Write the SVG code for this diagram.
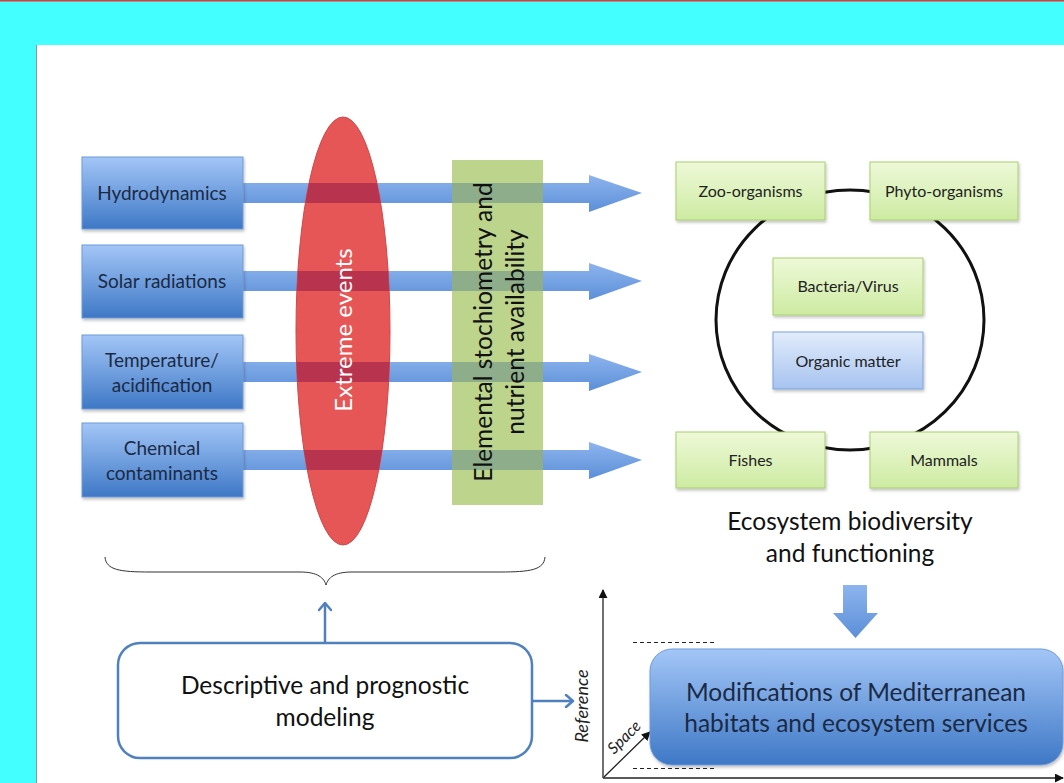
<svg xmlns="http://www.w3.org/2000/svg" width="1064" height="783" viewBox="0 0 1064 783">
<defs>
<linearGradient id="gBlue" x1="0" y1="0" x2="0" y2="1">
<stop offset="0" stop-color="#A3C6F7"/><stop offset="1" stop-color="#3E78C6"/>
</linearGradient>
<linearGradient id="gGreen" x1="0" y1="0" x2="0" y2="1">
<stop offset="0" stop-color="#EEF9D8"/><stop offset="1" stop-color="#CDEBA2"/>
</linearGradient>
<linearGradient id="gLBlue" x1="0" y1="0" x2="0" y2="1">
<stop offset="0" stop-color="#E2ECFB"/><stop offset="1" stop-color="#A6C3F0"/>
</linearGradient>
<linearGradient id="gArrow" x1="0" y1="0" x2="0" y2="1">
<stop offset="0" stop-color="#8DB4EE"/><stop offset="1" stop-color="#5C8FD8"/>
</linearGradient>
<clipPath id="cEll"><ellipse cx="343" cy="331" rx="47" ry="214"/></clipPath>
<clipPath id="cGrn"><rect x="452" y="160" width="91" height="345"/></clipPath>
<marker id="mOpen" viewBox="0 0 14 14" refX="10" refY="7" markerWidth="14" markerHeight="14" orient="auto" markerUnits="userSpaceOnUse">
<path d="M3,1 L10,7 L3,13" fill="none" stroke="#4F81BD" stroke-width="2.5" stroke-linecap="round" stroke-linejoin="round"/>
</marker>
<marker id="mBlk" viewBox="0 0 10 10" refX="9" refY="5" markerWidth="9" markerHeight="9" orient="auto" markerUnits="userSpaceOnUse">
<path d="M0,0 L10,5 L0,10 Z" fill="#111"/>
</marker>
<filter id="sh" x="-10%" y="-10%" width="130%" height="130%">
<feDropShadow dx="1" dy="2" stdDeviation="1.5" flood-color="#000" flood-opacity="0.25"/>
</filter>
</defs>
<style>
.f{font-family:Lato,"Open Sans","Liberation Sans",sans-serif}
.lbl{font-family:Lato,"Open Sans","Liberation Sans",sans-serif;fill:#1B2A44;text-anchor:middle}
.sm{font-family:Lato,"Open Sans","Liberation Sans",sans-serif;fill:#222;font-size:16px;text-anchor:middle}
.big{font-family:Lato,"Open Sans","Liberation Sans",sans-serif;fill:#111;text-anchor:middle;font-size:24.5px}
.bbox{fill:url(#gBlue);stroke:#6F9BD8;stroke-width:1}
.gbox{fill:url(#gGreen);stroke:#A9CF6E;stroke-width:1}
.ax{stroke:#222;stroke-width:1.3;fill:none}
.dash{stroke:#222;stroke-width:1;stroke-dasharray:4 3}
</style>
<rect x="0" y="0" width="1064" height="783" fill="#44FFFF"/>
<rect x="0" y="0" width="1064" height="1.5" fill="#E03A3A"/>
<rect x="36" y="45" width="1028" height="738" fill="#FFFFFF"/>
<line x1="36.5" y1="45" x2="36.5" y2="783" stroke="#8E88C8" stroke-width="1"/>

<g id="connectors">
<g fill="url(#gArrow)">
<path d="M243,183 H589 V175 L642,193 L589,212 V203 H243 Z"/>
<path d="M243,271 H589 V263 L642,281 L589,300 V291 H243 Z"/>
<path d="M243,362 H589 V354 L642,372 L589,391 V382 H243 Z"/>
<path d="M243,450 H589 V442 L642,460 L589,479 V470 H243 Z"/>
</g>
<line x1="325" y1="643" x2="325" y2="603" stroke="#4F81BD" stroke-width="2.5" marker-end="url(#mOpen)"/>
<line x1="532" y1="701" x2="573" y2="701" stroke="#4F81BD" stroke-width="2.5" marker-end="url(#mOpen)"/>
<path d="M843,585 H867 V613 H878 L855.5,638 L833,613 H843 Z" fill="url(#gArrow)"/>
<path d="M105,557 C106,570 120,572 150,572 L300,572 C318,572 324,578 326,585 C328,578 334,572 352,572 L500,572 C530,572 544,570 545,557" fill="none" stroke="#333" stroke-width="1"/>
</g>

<g id="extreme-events">
<ellipse cx="343" cy="331" rx="47" ry="214" fill="#E65656" stroke="#D04848" stroke-width="1"/>
<g clip-path="url(#cEll)" fill="#B8344E">
<rect x="290" y="183" width="110" height="20"/>
<rect x="290" y="271" width="110" height="20"/>
<rect x="290" y="362" width="110" height="20"/>
<rect x="290" y="450" width="110" height="20"/>
</g>
<text class="f" transform="translate(352,330) rotate(-90)" font-size="24" fill="#FFFFFF" text-anchor="middle">Extreme events</text>
</g>

<g id="stoichiometry">
<rect x="452" y="160" width="91" height="345" fill="#BCD48C"/>
<g clip-path="url(#cGrn)" fill="#8EAD8A">
<rect x="450" y="183" width="95" height="20"/>
<rect x="450" y="271" width="95" height="20"/>
<rect x="450" y="362" width="95" height="20"/>
<rect x="450" y="450" width="95" height="20"/>
</g>
<text class="f" transform="translate(492,332) rotate(-90)" font-size="24.5" fill="#111" text-anchor="middle">Elemental stochiometry and</text>
<text class="f" transform="translate(524,332) rotate(-90)" font-size="24.5" fill="#111" text-anchor="middle">nutrient availability</text>
</g>

<g id="hydrodynamics"><rect class="bbox" x="82" y="157" width="161" height="72" filter="url(#sh)"/><text class="lbl" x="162" y="200" font-size="19">Hydrodynamics</text></g>
<g id="solar"><rect class="bbox" x="82" y="245" width="161" height="73" filter="url(#sh)"/><text class="lbl" x="162" y="288" font-size="19">Solar radiations</text></g>
<g id="temperature"><rect class="bbox" x="82" y="335" width="161" height="74" filter="url(#sh)"/><text class="lbl" x="162" y="367" font-size="19">Temperature/</text><text class="lbl" x="162" y="392" font-size="19">acidification</text></g>
<g id="chemical"><rect class="bbox" x="82" y="423" width="161" height="74" filter="url(#sh)"/><text class="lbl" x="162" y="455" font-size="19">Chemical</text><text class="lbl" x="162" y="480" font-size="19">contaminants</text></g>

<g id="cycle"><ellipse cx="850" cy="320" rx="134" ry="130" fill="none" stroke="#111" stroke-width="3"/></g>
<g id="zoo"><rect class="gbox" x="676" y="162" width="149" height="58" filter="url(#sh)"/><text class="sm" x="750.5" y="197">Zoo-organisms</text></g>
<g id="phyto"><rect class="gbox" x="870" y="162" width="148" height="58" filter="url(#sh)"/><text class="sm" x="944" y="197">Phyto-organisms</text></g>
<g id="bacteria"><rect class="gbox" x="773" y="258" width="150" height="57" filter="url(#sh)"/><text class="sm" x="848" y="292">Bacteria/Virus</text></g>
<g id="organic"><rect x="773" y="332" width="150" height="57" fill="url(#gLBlue)" stroke="#7EA3DC" stroke-width="1" filter="url(#sh)"/><text class="sm" x="848" y="367">Organic matter</text></g>
<g id="fishes"><rect class="gbox" x="676" y="432" width="149" height="56" filter="url(#sh)"/><text class="sm" x="750.5" y="466">Fishes</text></g>
<g id="mammals"><rect class="gbox" x="870" y="432" width="148" height="56" filter="url(#sh)"/><text class="sm" x="944" y="466">Mammals</text></g>

<g id="ecosystem-label">
<text class="big" x="850" y="530">Ecosystem biodiversity</text>
<text class="big" x="850" y="562">and functioning</text>
</g>

<g id="modeling">
<rect x="118" y="643" width="414" height="115" rx="22" ry="22" fill="#FFFFFF" stroke="#4F81BD" stroke-width="2.5"/>
<text class="big" x="325" y="694">Descriptive and prognostic</text>
<text class="big" x="325" y="726">modeling</text>
</g>

<g id="axes">
<line class="ax" x1="603" y1="778" x2="603" y2="590" marker-end="url(#mBlk)"/>
<line class="ax" x1="603" y1="778" x2="1063" y2="778" marker-end="url(#mBlk)"/>
<line class="ax" x1="604" y1="777" x2="650" y2="732" marker-end="url(#mBlk)"/>
<line class="dash" x1="633" y1="642.5" x2="716" y2="642.5"/>
<line class="dash" x1="633" y1="768.5" x2="716" y2="768.5"/>
<text class="f" transform="translate(588,706) rotate(-90)" font-size="18" font-style="italic" fill="#222" text-anchor="middle">Reference</text>
<text class="f" transform="translate(628,741) rotate(-45)" font-size="16" font-style="italic" fill="#222" text-anchor="middle">Space</text>
</g>

<g id="modifications">
<rect x="650" y="649" width="413" height="116" rx="22" ry="22" fill="url(#gBlue)" stroke="#6F9BD8" stroke-width="1" filter="url(#sh)"/>
<text class="lbl" x="856" y="701" font-size="24.5">Modifications of Mediterranean</text>
<text class="lbl" x="856" y="732" font-size="24.5">habitats and ecosystem services</text>
</g>
</svg>
